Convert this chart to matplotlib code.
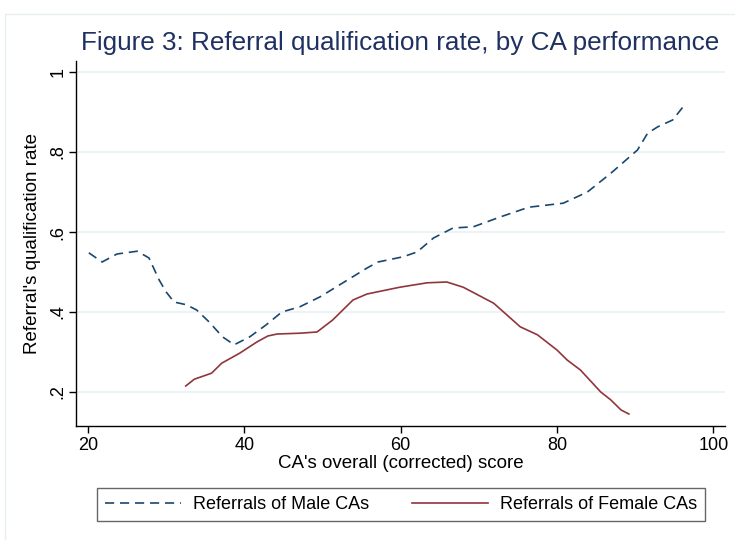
import matplotlib.pyplot as plt
import matplotlib.patches as mpatches

plt.rcParams['font.family'] = ['Liberation Sans', 'DejaVu Sans']

# values
male_x = [20.1, 21.8, 23.7, 26.3, 27.8, 29.1, 30.0, 31.0, 32.6, 33.9, 35.5, 37.2,
          38.7, 40.7, 42.8, 44.8, 47.1, 49.7, 52.2, 55.7, 57.1, 60.3, 62.1, 64.2,
          66.7, 69.3, 72.8, 76.4, 80.8, 83.9, 86.9, 90.3, 91.6, 92.9, 94.8, 96.5]
male_y = [0.548, 0.525, 0.545, 0.552, 0.535, 0.48, 0.45, 0.425, 0.418, 0.405, 0.375, 0.338,
          0.318, 0.338, 0.368, 0.40, 0.413, 0.438, 0.468, 0.51, 0.525, 0.538, 0.55, 0.585,
          0.61, 0.613, 0.638, 0.662, 0.672, 0.70, 0.747, 0.805, 0.847, 0.863, 0.88, 0.922]

female_x = [32.5, 33.6, 35.8, 37.1, 39.4, 41.6, 43.0, 44.2, 47.1, 49.3, 51.3, 53.9,
            55.7, 59.9, 63.4, 65.9, 68.0, 71.9, 75.3, 77.5, 80.0, 81.3, 83.0, 85.6,
            86.9, 88.2, 89.2]
female_y = [0.215, 0.232, 0.247, 0.272, 0.297, 0.325, 0.34, 0.345, 0.347, 0.35, 0.38, 0.43,
            0.445, 0.462, 0.473, 0.475, 0.462, 0.422, 0.363, 0.343, 0.305, 0.28, 0.255, 0.2,
            0.18, 0.155, 0.145]

x_ticks = [20, 40, 60, 80, 100]
y_ticks = [0.2, 0.4, 0.6, 0.8, 1.0]
y_tick_labels = ['.2', '.4', '.6', '.8', '1']

fig = plt.figure(figsize=(7.35, 5.4), dpi=100)
ax = fig.add_axes([76 / 735, 114 / 540, 649 / 735, 365 / 540])

# faint outer frame like the Stata graph region
fig.patches.append(mpatches.Rectangle((5 / 735, -0.01), 1.0, 531 / 540,
                                      transform=fig.transFigure, fill=False,
                                      edgecolor='#e6eef0', lw=1.0))

ax.plot(male_x, male_y, color='#1a476f', lw=1.2, linestyle=(0, (5.5, 3.5)),
        label='Referrals of Male CAs')
ax.plot(female_x, female_y, color='#90353b', lw=1.2,
        label='Referrals of Female CAs')

ax.set_xlim(18.46, 101.5)
ax.set_ylim(0.115, 1.0275)
ax.set_xticks(x_ticks)
ax.set_yticks(y_ticks)
ax.set_yticklabels(y_tick_labels, rotation=90, va='center')
ax.tick_params(labelsize=13, length=5, width=1, colors='black')
ax.tick_params(axis='y', pad=2)
ax.tick_params(axis='x', pad=3)
ax.grid(axis='y', color='#eaf2f3', lw=1.3)
ax.set_axisbelow(True)
for s in ['top', 'right']:
    ax.spines[s].set_visible(False)
for s in ['left', 'bottom']:
    ax.spines[s].set_linewidth(1.0)

ax.set_xlabel("CA's overall (corrected) score", fontsize=13.5, labelpad=1)
ax.set_ylabel("Referral's qualification rate", fontsize=13.5, labelpad=6)

fig.text(400 / 735, 1 - 43 / 540, 'Figure 3: Referral qualification rate, by CA performance',
         ha='center', va='center', fontsize=18.8, color='#1e3160')

leg = fig.legend(loc='center', bbox_to_anchor=(401 / 735, 1 - 504.5 / 540), ncol=2,
                 fontsize=13, frameon=True, fancybox=False, edgecolor='#404040',
                 handlelength=4.2, columnspacing=2.35, borderpad=0.45, handletextpad=0.7)
leg.get_frame().set_linewidth(1.0)

fig.savefig('out.png', dpi=100)
